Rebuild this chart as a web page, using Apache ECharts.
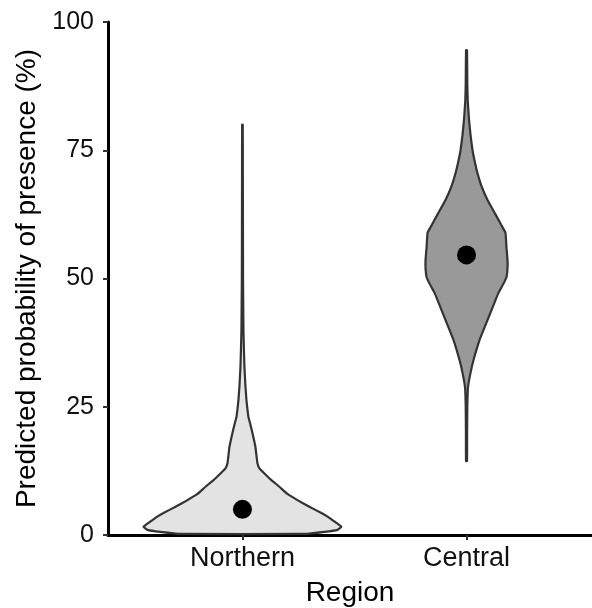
<!DOCTYPE html>
<html>
<head>
<meta charset="utf-8">
<script src="https://cdn.jsdelivr.net/npm/echarts@6/dist/echarts.min.js"></script>
<style>
  html, body { margin: 0; padding: 0; background: #fff; }
  #chart { width: 592px; height: 608px; }
</style>
</head>
<body>
<div id="chart"></div>
<script>
// categories
const regions = ['Northern', 'Central'];
const yTicks = [0, 25, 50, 75, 100];

// violin outlines: probability (%) and relative half-width of the density
const northernValues = [0.2, 0.6, 1.0, 1.6, 2.5, 3.5, 4.3, 5.5, 6.8, 8.0, 9.4, 10.7, 12.0, 13.0, 14.0, 15.5, 17.2, 19.9, 21.5, 23.0, 24.5, 26.3, 29.0, 32.7, 36.0, 40.0, 45.0, 50.0, 60.0, 70.0, 80.0];
const northernWidths = [0.62, 0.82, 0.95, 0.99, 0.93, 0.86, 0.79, 0.67, 0.55, 0.45, 0.37, 0.29, 0.22, 0.17, 0.15, 0.14, 0.13, 0.10, 0.08, 0.06, 0.05, 0.04, 0.03, 0.02, 0.015, 0.01, 0.008, 0.006, 0.005, 0.004, 0.003];

const centralValues = [14.4, 20.0, 25.0, 28.8, 31.6, 34.1, 38.0, 41.9, 45.8, 47.2, 49.0, 50.3, 52.0, 53.6, 56.0, 58.9, 60.0, 62.5, 65.3, 68.0, 70.5, 73.0, 75.0, 78.0, 81.0, 84.8, 88.0, 94.5];
const centralWidths = [0.005, 0.006, 0.008, 0.015, 0.04, 0.07, 0.13, 0.21, 0.29, 0.32, 0.37, 0.40, 0.41, 0.41, 0.40, 0.39, 0.36, 0.29, 0.21, 0.15, 0.11, 0.08, 0.06, 0.04, 0.025, 0.012, 0.008, 0.005];

// mean predicted probability per region
const meanValues = [5.0, 54.6];

const profiles = [
  { values: northernValues, widths: northernWidths, fill: '#e3e3e3' },
  { values: centralValues, widths: centralWidths, fill: '#999999' }
];
const halfWidth = 0.446; // x units for a relative width of 1

const chart = echarts.init(document.getElementById('chart'));

function renderViolin(params, api) {
  const p = profiles[params.dataIndex];
  const pos = params.dataIndex + 1;
  const pts = [];
  for (let i = 0; i < p.values.length; i++) {
    pts.push(api.coord([pos + p.widths[i] * halfWidth, p.values[i]]));
  }
  for (let i = p.values.length - 1; i >= 0; i--) {
    pts.push(api.coord([pos - p.widths[i] * halfWidth, p.values[i]]));
  }
  return {
    type: 'polygon',
    shape: { points: pts, smooth: 0.1 },
    style: { fill: p.fill, stroke: '#333333', lineWidth: 2.2 }
  };
}

const font = 'Liberation Sans, Arial, sans-serif';

chart.setOption({
  animation: false,
  backgroundColor: '#ffffff',
  grid: { left: 108, right: 0, top: 22, bottom: 73, outerBoundsMode: 'none', containLabel: false },
  xAxis: {
    type: 'value',
    min: 0.4,
    max: 2.56,
    name: 'Region',
    nameLocation: 'middle',
    nameGap: 44,
    nameTextStyle: { fontFamily: font, fontSize: 28, color: '#000' },
    axisLine: { show: true, onZero: false, lineStyle: { color: '#000', width: 3 } },
    axisTick: { show: true, customValues: [1, 2], length: 5, lineStyle: { color: '#333', width: 2 } },
    axisLabel: {
      customValues: [1, 2],
      formatter: v => regions[Math.round(v) - 1],
      fontFamily: font, fontSize: 27, color: '#111', margin: 10
    },
    splitLine: { show: false }
  },
  yAxis: {
    type: 'value',
    min: 0,
    max: 100,
    interval: 25,
    name: 'Predicted probability of presence (%)',
    nameLocation: 'middle',
    nameGap: 64,
    nameTextStyle: { fontFamily: font, fontSize: 28, color: '#000' },
    axisLine: { show: true, onZero: false, lineStyle: { color: '#000', width: 3 } },
    axisTick: { show: true, length: 5, lineStyle: { color: '#333', width: 2 } },
    axisLabel: {
      customValues: yTicks,
      fontFamily: font, fontSize: 25, color: '#111', margin: 14
    },
    splitLine: { show: false }
  },
  series: [
    {
      type: 'custom',
      renderItem: renderViolin,
      data: regions.map((r, i) => [i + 1, meanValues[i]]),
      z: 2
    },
    {
      type: 'scatter',
      data: regions.map((r, i) => [i + 1, meanValues[i]]),
      symbolSize: 19,
      itemStyle: { color: '#000', opacity: 1 },
      z: 3
    }
  ]
});
</script>
</body>
</html>
